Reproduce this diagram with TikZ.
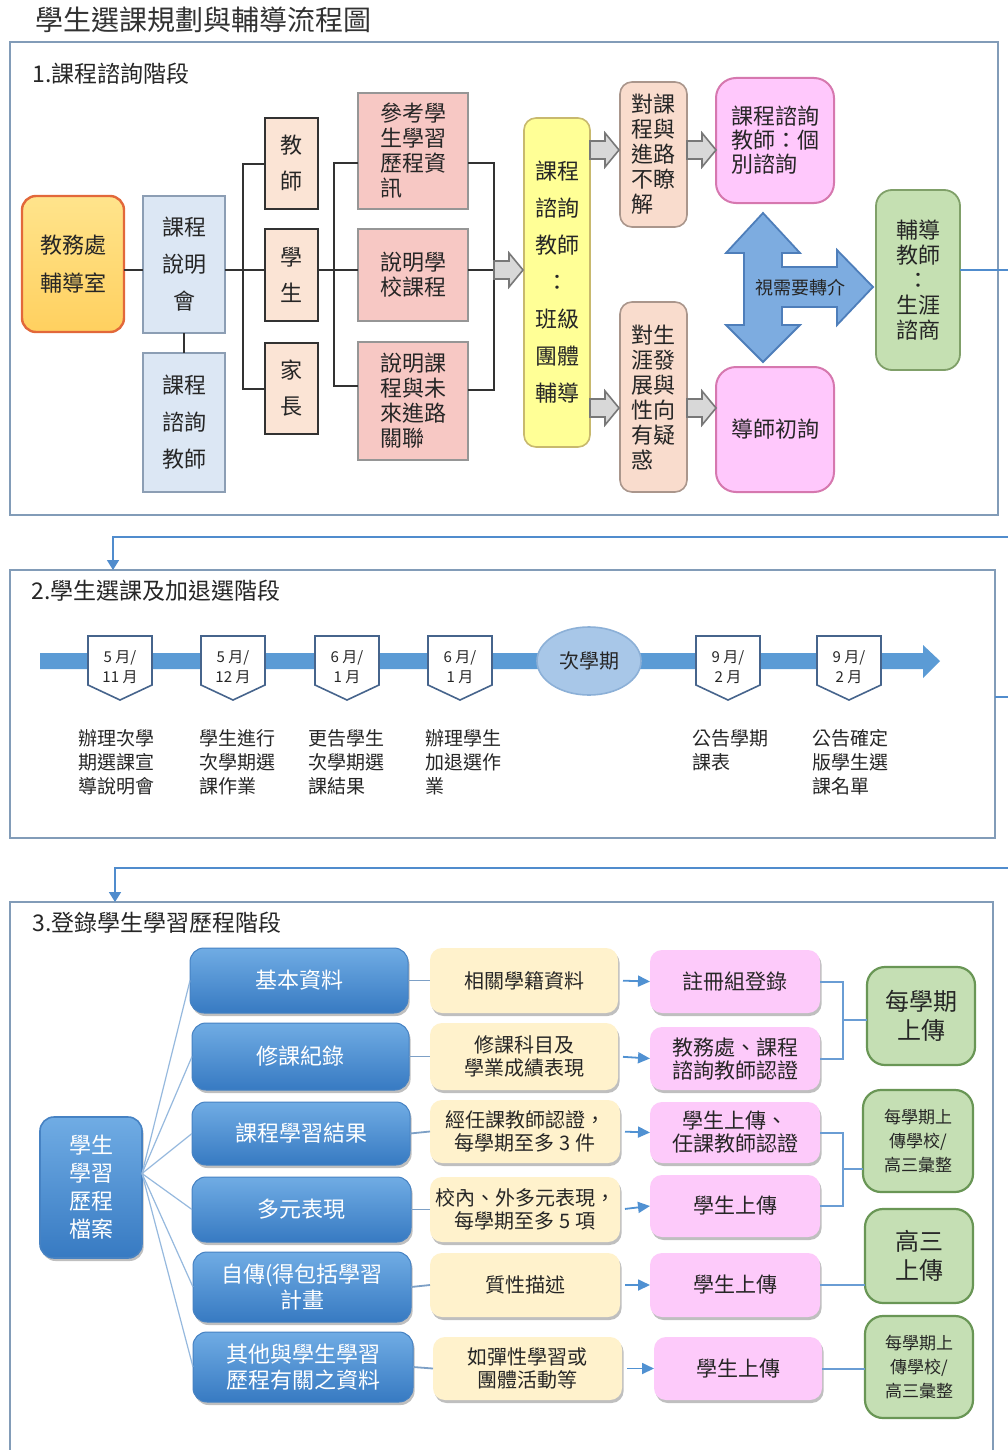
\documentclass[tikz,border=0pt]{standalone}
\usepackage{fontspec}
\setmainfont{Noto Sans CJK TC}
\usetikzlibrary{fit,shapes.geometric,shadows,calc,arrows.meta}
\definecolor{frameC}{RGB}{130,156,184}
\definecolor{flowC}{RGB}{80,140,205}
\definecolor{txtC}{RGB}{38,38,38}
\definecolor{orgT}{RGB}{255,228,140}
\definecolor{orgB}{RGB}{255,208,95}
\definecolor{orgD}{RGB}{226,104,58}
\definecolor{lbF}{RGB}{220,231,244}
\definecolor{lbD}{RGB}{140,158,180}
\definecolor{peF}{RGB}{251,228,213}
\definecolor{darkD}{RGB}{50,50,50}
\definecolor{pkF}{RGB}{247,200,196}
\definecolor{pkD}{RGB}{150,150,150}
\definecolor{ylF}{RGB}{255,255,150}
\definecolor{ylD}{RGB}{200,185,110}
\definecolor{p2F}{RGB}{249,220,205}
\definecolor{p2D}{RGB}{170,150,140}
\definecolor{mgF}{RGB}{255,200,252}
\definecolor{mgD}{RGB}{214,120,175}
\definecolor{grF}{RGB}{197,224,178}
\definecolor{grD}{RGB}{128,160,105}
\definecolor{gaF}{RGB}{216,216,216}
\definecolor{gaD}{RGB}{120,120,120}
\definecolor{bxF}{RGB}{125,172,224}
\definecolor{bxD}{RGB}{78,126,186}
\definecolor{tlC}{RGB}{91,155,213}
\definecolor{pentD}{RGB}{70,100,140}
\definecolor{ellF}{RGB}{168,199,232}
\definecolor{ellD}{RGB}{140,176,215}
\definecolor{bT}{RGB}{112,172,228}
\definecolor{bB}{RGB}{55,122,194}
\definecolor{bD}{RGB}{70,130,195}
\definecolor{y3F}{RGB}{255,242,204}
\definecolor{p3F}{RGB}{253,202,250}
\definecolor{g3F}{RGB}{197,223,180}
\definecolor{g3D}{RGB}{105,150,85}
\definecolor{lkC}{RGB}{125,160,198}
\definecolor{arC}{RGB}{80,145,210}
\definecolor{fanC}{RGB}{150,185,222}
\definecolor{titleC}{RGB}{50,50,50}
\newcommand\fsz[2]{\fontsize{#1}{#2}\selectfont}
% box by corners: style, name, x1, y1, x2, y2, text
\newcommand\bx[7]{\node[#1, minimum width={(#5-#3)*0.5pt}, minimum height={(#6-#4)*0.5pt}] (#2) at ({(#3+#5)/2},{(#4+#6)/2}) {#7};}
\newcommand\grayblockarrow[1]{\draw[garr] (#1) ++(0,-9) -- ++(15,0) -- ++(0,-8) -- ++(14,17) -- ++(-14,17) -- ++(0,-8) -- ++(-15,0) -- cycle;}
\newcommand\pentbox[3]{\draw[pentS] (#1,636) ++(-32,0) -- ++(64,0) -- ++(0,49) -- ++(-32,15) -- ++(-32,-15) -- cycle; \node[pentT] (#2) at (#1,667) {#3};}
\begin{document}
\begin{tikzpicture}[x=0.5pt,y=-0.5pt,
  every node/.style={text=txtC},
  fb/.style={inner sep=0pt, outer sep=0pt, align=center},
  frame/.style={draw=frameC, line width=1pt, inner sep=0pt, outer sep=0pt},
  lbl/.style={anchor=west, inner sep=0pt, font=\fsz{11.5}{14}},
  orgbox/.style={fb, rounded corners=7pt, top color=orgT, bottom color=orgB, draw=orgD, line width=1.2pt, font=\fsz{11}{19}},
  lbbox/.style={fb, fill=lbF, draw=lbD, line width=0.8pt, font=\fsz{11}{18.5}},
  pebox/.style={fb, fill=peF, draw=darkD, line width=1.2pt, font=\fsz{11}{18}},
  pkbox/.style={fb, fill=pkF, draw=pkD, line width=0.8pt, font=\fsz{11}{12.5}},
  ylbox/.style={fb, rounded corners=6pt, fill=ylF, draw=ylD, line width=0.8pt, font=\fsz{11}{18.5}},
  p2box/.style={fb, rounded corners=6pt, fill=p2F, draw=p2D, line width=0.8pt, font=\fsz{11}{12.5}},
  mgbox/.style={fb, rounded corners=10pt, fill=mgF, draw=mgD, line width=1pt, font=\fsz{11}{12}},
  grbox/.style={fb, rounded corners=8pt, fill=grF, draw=grD, line width=0.9pt, font=\fsz{11}{12.5}},
  conn/.style={draw=darkD, line width=1pt},
  garr/.style={fill=gaF, draw=gaD, line width=0.8pt, line join=miter},
  bxS/.style={fill=bxF, draw=bxD, line width=0.9pt, line join=miter},
  flow/.style={draw=flowC, line width=0.8pt, -{Triangle[length=5pt,width=6pt]}},
  pentS/.style={fill=white, draw=pentD, line width=0.8pt, line join=miter},
  pentT/.style={inner sep=0pt, align=center, font=\fsz{7.5}{10}},
  desc/.style={anchor=north west, inner sep=0pt, align=left, font=\fsz{9.5}{12}},
  shd/.style={drop shadow={shadow xshift=0.8pt, shadow yshift=-1.5pt, fill=black, opacity=0.25}},
  bbS/.style={fb, rounded corners=7pt, top color=bT, bottom color=bB, draw=bD, line width=0.8pt, text=white, font=\fsz{11}{14}, shd},
  bS/.style={fb, rounded corners=7pt, top color=bT, bottom color=bB, draw=bD, line width=0.5pt, text=white, font=\fsz{11}{13}, shd},
  yS/.style={fb, rounded corners=6pt, fill=y3F, font=\fsz{10}{11.5}, shd},
  pS/.style={fb, rounded corners=6pt, fill=p3F, font=\fsz{10.5}{11.5}, shd},
  gS/.style={fb, rounded corners=9pt, fill=g3F, draw=g3D, line width=1.1pt, font=\fsz{12}{14.5}},
  gsS/.style={gS, font=\fsz{8.5}{12}},
  fan/.style={draw=fanC, line width=0.6pt},
  lk/.style={draw=lkC, line width=0.9pt},
  ar/.style={draw=arC, line width=0.9pt, shorten <=2.5pt, -{Triangle[length=6pt,width=5.5pt]}},
  gl/.style={draw=flowC!85, line width=1pt}
]
\useasboundingbox (0,0) rectangle (1007,1450);
\fill[white] (0,0) rectangle (1007,1450);
% helper coordinates
\coordinate (r150) at (0,150);
\coordinate (r163) at (0,163);
\coordinate (r270) at (0,270);
\coordinate (r386) at (0,386);
\coordinate (r390) at (0,390);
\coordinate (r408) at (0,408);
\coordinate (r697) at (0,697);
\coordinate (x113) at (113,0);
\coordinate (x115) at (115,0);

\node[anchor=west, inner sep=0pt, font=\fsz{14}{16}, text=titleC] (title) at (35,20) {學生選課規劃與輔導流程圖};

% ---------------- Section 1 ----------------
\node[frame, fit={(10,42)(998,515)}] (f1) {};
\node[lbl] (l1) at (32,74) {1.課程諮詢階段};

\bx{orgbox}{jw}{22}{196}{124}{332}{教務處\\輔導室}
\bx{lbbox}{kc}{143}{196}{225}{333}{課程\\說明\\會}
\bx{lbbox}{kt}{143}{353}{225}{492}{課程\\諮詢\\教師}
\bx{pebox}{te}{265}{118}{318}{209}{教\\師}
\bx{pebox}{stu}{265}{229}{318}{321}{學\\生}
\bx{pebox}{pa}{265}{343}{318}{434}{家\\長}
\bx{pkbox,align=left}{ps1}{358}{93}{468}{209}{參考學\\生學習\\歷程資\\訊}
\bx{pkbox,align=left}{ps2}{358}{229}{468}{321}{說明學\\校課程}
\bx{pkbox,align=left}{ps3}{358}{342}{468}{460}{說明課\\程與未\\來進路\\關聯}
\bx{ylbox}{yel}{524}{118}{590}{447}{課程\\諮詢\\教師\\：\\班級\\團體\\輔導}
\bx{p2box,align=left}{pe1}{620}{82}{687}{227}{對課\\程與\\進路\\不瞭\\解}
\bx{p2box,align=left}{pe2}{620}{302}{687}{492}{對生\\涯發\\展與\\性向\\有疑\\惑}
\bx{mgbox,align=left}{mg1}{716}{78}{834}{203}{課程諮詢\\教師：個\\別諮詢}
\bx{mgbox}{mg2}{716}{367}{834}{492}{導師初詢}
\bx{grbox}{gr}{876}{190}{960}{370}{輔導\\教師\\：\\生涯\\諮商}

\draw[conn] (jw.east|-r270) -- (kc.west|-r270);
\draw[conn] (kc.south) -- (kt.north);
\draw[conn] (kc.east|-r270) -- (stu.west|-r270);
\draw[conn] (te.west) -- ++(-22,0) |- (pa.west);
\draw[conn] (stu.east|-r270) -- (ps2.west|-r270);
\draw[conn] (ps1.west|-r163) -- ++(-24,0) |- (ps3.west|-r386);
\draw[conn] (ps1.east|-r163) -- ++(26,0) |- (ps3.east|-r390);
\draw[conn] (ps2.east|-r270) -- ++(26,0) coordinate (busr);

\grayblockarrow{busr}
\grayblockarrow{yel.east|-r150}
\grayblockarrow{pe1.east|-r150}
\grayblockarrow{yel.east|-r408}
\grayblockarrow{pe2.east|-r408}

\draw[bxS] (763,213) -- (800,253) -- (782,253) -- (782,267) -- (837,267) -- (837,250) -- (873,287) -- (837,325) -- (837,307) -- (782,307) -- (782,325) -- (800,325) -- (763,362) -- (726,325) -- (744,325) -- (744,253) -- (726,253) -- cycle;
\node[inner sep=0pt, font=\fsz{9}{10}] (vx) at (800,288) {視需要轉介};

% ---------------- Section 2 ----------------
\node[frame, fit={(10,570)(995,838)}] (f2) {};
\node[lbl] (l2) at (31,591) {2.學生選課及加退選階段};

\fill[tlC] (40,653) -- (923,653) -- (923,645) -- (940,661) -- (923,678) -- (923,669) -- (40,669) -- cycle;
\pentbox{120}{t1}{5 月/\\11 月}
\pentbox{233}{t2}{5 月/\\12 月}
\pentbox{347}{t3}{6 月/\\1 月}
\pentbox{460}{t4}{6 月/\\1 月}
\pentbox{728}{t5}{9 月/\\2 月}
\pentbox{849}{t6}{9 月/\\2 月}
\node[ellipse, fill=ellF, draw=ellD, line width=0.8pt, minimum width=52pt, minimum height=34pt, inner sep=0pt, font=\fsz{10}{12}] (nx) at (589,661) {次學期};

\node[desc] (d1) at (78,729) {辦理次學\\期選課宣\\導說明會};
\node[desc] (d2) at (199,729) {學生進行\\次學期選\\課作業};
\node[desc] (d3) at (308,729) {更告學生\\次學期選\\課結果};
\node[desc] (d4) at (425,729) {辦理學生\\加退選作\\業};
\node[desc] (d5) at (692,729) {公告學期\\課表};
\node[desc] (d6) at (812,729) {公告確定\\版學生選\\課名單};

% ---------------- Section 3 ----------------
\node[frame, fit={(10,902)(993,1480)}] (f3) {};
\node[lbl] (l3) at (32,923) {3.登錄學生學習歷程階段};

\bx{bbS}{bb}{40}{1117}{142}{1258}{學生\\學習\\歷程\\檔案}
\bx{bS}{b1}{190}{948}{408}{1013}{基本資料}
\bx{bS}{b2}{192}{1023}{409}{1090}{修課紀錄}
\bx{bS}{b3}{192}{1102}{410}{1165}{課程學習結果}
\bx{bS}{b4}{192}{1177}{411}{1242}{多元表現}
\bx{bS}{b5}{193}{1252}{411}{1322}{自傳(得包括學習\\計畫}
\bx{bS}{b6}{193}{1332}{413}{1402}{其他與學生學習\\歷程有關之資料}

\bx{yS}{y1}{430}{948}{618}{1013}{相關學籍資料}
\bx{yS}{y2}{430}{1023}{618}{1090}{修課科目及\\學業成績表現}
\bx{yS}{y3}{430}{1100}{620}{1163}{經任課教師認證，\\每學期至多 3 件}
\bx{yS}{y4}{430}{1177}{620}{1242}{校內、外多元表現，\\每學期至多 5 項}
\bx{yS}{y5}{430}{1253}{620}{1317}{質性描述}
\bx{yS}{y6}{433}{1337}{622}{1400}{如彈性學習或\\團體活動等}

\bx{pS}{p1}{650}{950}{820}{1013}{註冊組登錄}
\bx{pS}{p2}{650}{1027}{820}{1090}{教務處、課程\\諮詢教師認證}
\bx{pS}{p3}{650}{1102}{820}{1163}{學生上傳、\\任課教師認證}
\bx{pS}{p4}{650}{1175}{820}{1237}{學生上傳}
\bx{pS}{p5}{650}{1253}{820}{1317}{學生上傳}
\bx{pS}{p6}{654}{1337}{822}{1400}{學生上傳}

\bx{gS}{g1}{867}{967}{975}{1065}{每學期\\上傳}
\bx{gsS}{g2}{863}{1090}{973}{1192}{每學期上\\傳學校/\\高三彙整}
\bx{gS}{g3}{865}{1209}{973}{1303}{高三\\上傳}
\bx{gsS}{g4}{865}{1316}{973}{1418}{每學期上\\傳學校/\\高三彙整}

\foreach \i in {1,...,6} {
  \draw[fan] ([yshift=7pt]bb.east) -- (b\i.west);
  \draw[lk] (b\i.east) -- (y\i.west);
  \draw[ar] (y\i.east) -- (p\i.west);
}
\draw[gl] (p1.east) -- ++(23,0) |- (p2.east);
\path ($(p1.east)!.5!(p2.east)$) ++(23,0) coordinate (m12);
\draw[gl] (m12) -- (g1.west|-m12);
\draw[gl] (p3.east) -- ++(23,0) |- (p4.east);
\path ($(p3.east)!.5!(p4.east)$) ++(23,0) coordinate (m34);
\draw[gl] (m34) -- (g2.west|-m34);
\draw[gl] (p5.east) -- (g3.west|-p5.east);
\draw[gl] (p6.east) -- (g4.west|-p6.east);

% ---------------- stage connectors ----------------
\draw[flow] (gr.east|-r270) -- (1030,270) -- (1030,537) -- (113,537) -- (f2.north-|x113);
\draw[flow] (f2.east|-r697) -- (1030,697) -- (1030,868) -- (115,868) -- (f3.north-|x115);
\end{tikzpicture}
\end{document}
